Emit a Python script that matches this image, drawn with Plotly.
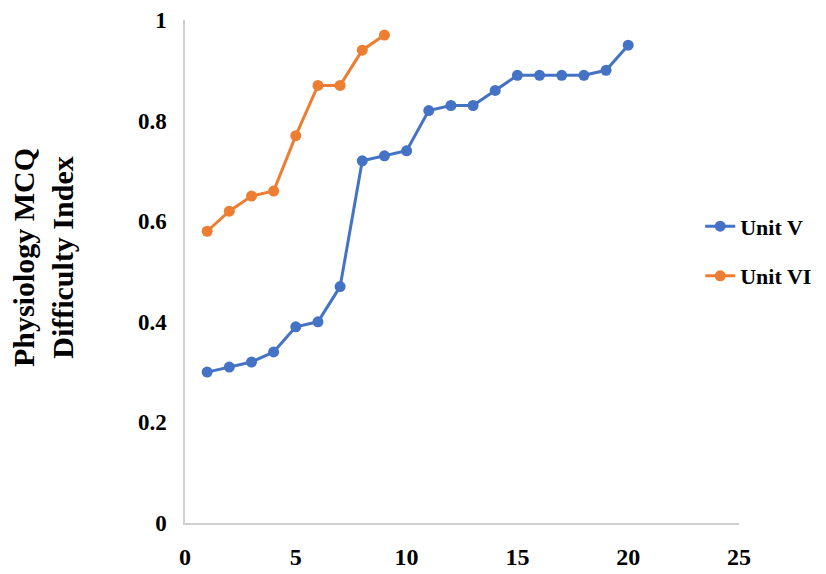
import plotly.graph_objects as go

x_unit5 = list(range(1, 21))
y_unit5 = [0.30, 0.31, 0.32, 0.34, 0.39, 0.40, 0.47, 0.72, 0.73, 0.74,
           0.82, 0.83, 0.83, 0.86, 0.89, 0.89, 0.89, 0.89, 0.90, 0.95]
x_unit6 = list(range(1, 10))
y_unit6 = [0.58, 0.62, 0.65, 0.66, 0.77, 0.87, 0.87, 0.94, 0.97]

x_ticks = [0, 5, 10, 15, 20, 25]
y_ticks = [0, 0.2, 0.4, 0.6, 0.8, 1]
y_ticktext = ["0", "0.2", "0.4", "0.6", "0.8", "1"]
y_title = "Physiology MCQ<br>Difficulty Index"

serif = "Liberation Serif, Times New Roman, serif"

fig = go.Figure()
fig.add_trace(go.Scatter(x=x_unit5, y=y_unit5, mode="lines+markers", name="Unit V",
                         legendgroup="a",
                         line=dict(color="#4472C4", width=3),
                         marker=dict(color="#4472C4", size=11)))
fig.add_trace(go.Scatter(x=x_unit6, y=y_unit6, mode="lines+markers", name="Unit VI",
                         legendgroup="b",
                         line=dict(color="#ED7D31", width=3),
                         marker=dict(color="#ED7D31", size=11)))

fig.update_layout(
    width=826, height=574,
    margin=dict(l=185, r=87, t=20, b=51, autoexpand=False),
    paper_bgcolor="white", plot_bgcolor="white",
    font=dict(family=serif, color="black"),
    showlegend=True,
    legend=dict(x=0.93, y=0.54, xanchor="left", yanchor="middle",
                font=dict(family=serif, size=22, color="black", weight="bold"),
                bgcolor="rgba(0,0,0,0)", traceorder="grouped", tracegroupgap=18),
    xaxis=dict(range=[0, 25], tickvals=x_ticks, showgrid=False, zeroline=False,
               showline=True, linecolor="#d0d0d0", linewidth=1.5, automargin=False,
               tickfont=dict(family=serif, size=24, color="black", weight="bold"),
               ticks="", ticklabelstandoff=11),
    yaxis=dict(range=[0, 1], tickvals=y_ticks, ticktext=y_ticktext, showgrid=False,
               zeroline=False, showline=True, linecolor="#d0d0d0", linewidth=1.5,
               automargin=False,
               tickfont=dict(family=serif, size=23, color="black", weight="bold"),
               ticks="", ticklabelstandoff=12),
    annotations=[dict(text=y_title, xref="paper", yref="paper",
                      x=-0.256, y=0.527, xanchor="center", yanchor="middle",
                      textangle=-90, showarrow=False,
                      font=dict(family=serif, size=30, color="black", weight="bold"))],
)

fig.write_html("out.html")
